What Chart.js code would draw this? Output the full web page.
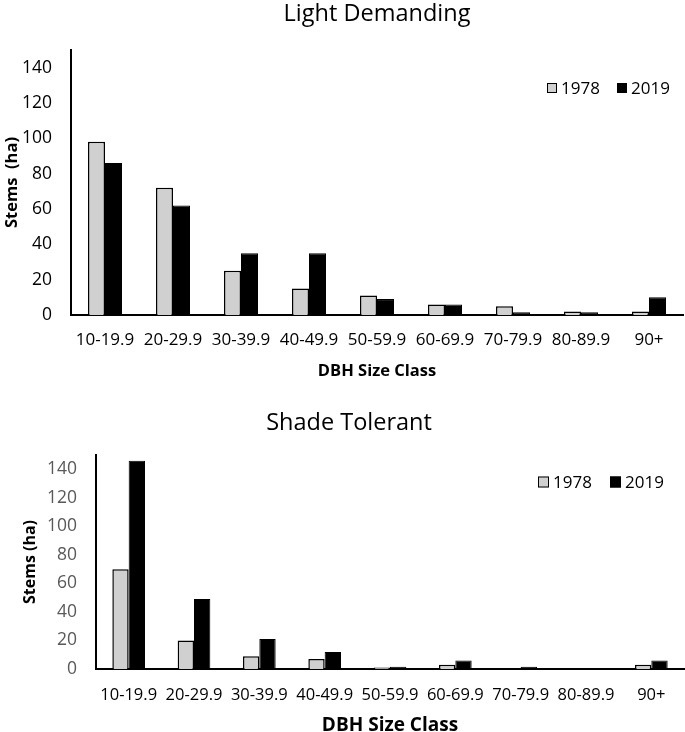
<!DOCTYPE html>
<html>
<head>
<meta charset="utf-8">
<script src="https://cdn.jsdelivr.net/npm/chart.js@4/dist/chart.umd.min.js"></script>
<style>
  html, body { margin: 0; padding: 0; background: #fff; overflow: hidden; }
  #wrap { position: relative; width: 685px; height: 732px; overflow: hidden; }
  canvas { position: absolute; left: 0; }
  #c1 { top: 0; }
  #c2 { top: 395px; }
</style>
</head>
<body>
<div id="wrap">
  <canvas id="c1" width="685" height="395"></canvas>
  <canvas id="c2" width="685" height="345"></canvas>
</div>
<script>
// ---- data ----
const categories = ['10-19.9', '20-29.9', '30-39.9', '40-49.9', '50-59.9', '60-69.9', '70-79.9', '80-89.9', '90+'];
const seriesNames = ['1978', '2019'];
const light1978 = [98, 72, 25, 15, 11, 6, 5, 2, 2];
const light2019 = [86, 62, 35, 35, 9, 6, 1.5, 1.5, 10];
const shade1978 = [70, 20, 9, 7, 1, 3, 0, 0, 3];
const shade2019 = [146, 49, 21, 12, 1.5, 6, 1.5, 0, 6];
const yTickValues = [0, 20, 40, 60, 80, 100, 120, 140];
const yMax = 150;

const FONT = '"Open Sans", "DejaVu Sans", sans-serif';

const cornerLegend = {
  id: 'cornerLegend',
  afterDraw(chart, args, opts) {
    const ctx = chart.ctx;
    ctx.save();
    ctx.font = opts.font;
    ctx.textBaseline = 'middle';
    ctx.textAlign = 'left';
    chart.data.datasets.forEach((ds, i) => {
      const x = opts.x[i];
      const b = opts.box;
      ctx.fillStyle = ds.backgroundColor;
      ctx.fillRect(x, opts.y - b / 2, b, b);
      ctx.strokeStyle = '#000';
      ctx.lineWidth = 1;
      ctx.strokeRect(x + 0.5, opts.y - b / 2 + 0.5, b - 1, b - 1);
      ctx.fillStyle = opts.color;
      ctx.fillText(ds.label, x + b + 4, opts.y + 1);
    });
    ctx.restore();
  }
};

function makeDatasets(a, b) {
  return [
    { label: seriesNames[0], data: a, backgroundColor: '#d0d0d0', borderColor: '#000', borderWidth: 1.5, borderSkipped: 'bottom' },
    { label: seriesNames[1], data: b, backgroundColor: '#000', borderColor: '#000', borderWidth: 1, borderSkipped: 'bottom' }
  ];
}

function makeChart(el, cfg) {
  return new Chart(el, {
    type: 'bar',
    data: { labels: categories, datasets: makeDatasets(cfg.a, cfg.b) },
    options: {
      responsive: false,
      animation: false,
      devicePixelRatio: 1,
      categoryPercentage: 0.5,
      barPercentage: 1.0,
      layout: { padding: cfg.layoutPadding },
      plugins: {
        legend: { display: false },
        tooltip: { enabled: false },
        title: {
          display: true,
          text: cfg.title,
          color: '#000',
          fullSize: cfg.titleFull,
          font: { family: FONT, size: 23.5, weight: 'normal', lineHeight: 1.2 },
          padding: cfg.titlePadding
        },
        cornerLegend: cfg.legend
      },
      scales: {
        x: {
          grid: { display: false, drawTicks: false },
          border: { display: true, color: '#000', width: 2 },
          ticks: { color: '#000', padding: cfg.xTickPad, maxRotation: 0, autoSkip: false,
                   font: { family: FONT, size: cfg.xTickSize } },
          title: { display: true, text: 'DBH Size Class', color: '#000',
                   font: { family: FONT, size: cfg.xTitleSize, weight: 'bold', lineHeight: 1.2 },
                   padding: { top: 0, bottom: cfg.xTitlePad } },
          afterFit(scale) { scale.height = cfg.xHeight; }
        },
        y: {
          min: 0, max: yMax,
          grid: { display: false, drawTicks: false },
          border: { display: true, color: '#000', width: 2 },
          ticks: { color: cfg.yTickColor, padding: 19, font: { family: FONT, size: 17.5 } },
          afterBuildTicks(scale) { scale.ticks = yTickValues.map(v => ({ value: v })); },
          title: { display: true, text: cfg.yTitle, color: '#000',
                   font: { family: FONT, size: cfg.yTitleSize, weight: 'bold', lineHeight: 1.2 },
                   padding: { top: cfg.yTitlePad, bottom: 0 } },
          afterFit(scale) { scale.width = cfg.yWidth; }
        }
      }
    },
    plugins: [cornerLegend]
  });
}

makeChart(document.getElementById('c1'), {
  a: light1978, b: light2019,
  title: 'Light Demanding', titleFull: false,
  titlePadding: { top: 0, bottom: 21.8 },
  layoutPadding: { left: 0, right: 2, top: 0, bottom: 0 },
  xHeight: 80, xTickPad: 15, xTickSize: 17, xTitleSize: 16.5, xTitlePad: 14,
  yWidth: 71, yTickColor: '#000', yTitle: 'Stems  (ha)', yTitleSize: 16.5, yTitlePad: 2,
  legend: { x: [547, 617], y: 88, box: 10, font: '17px ' + FONT, color: '#000' }
});

makeChart(document.getElementById('c2'), {
  a: shade1978, b: shade2019,
  title: 'Shade Tolerant', titleFull: true,
  titlePadding: { top: 13.9, bottom: 17.9 },
  layoutPadding: { left: 14, right: 1, top: 0, bottom: 0 },
  xHeight: 71, xTickPad: 16, xTickSize: 16.5, xTitleSize: 19, xTitlePad: 2.6,
  yWidth: 82, yTickColor: '#595959', yTitle: 'Stems (ha)', yTitleSize: 16, yTitlePad: 6.4,
  legend: { x: [538, 610], y: 87, box: 11, font: '17px ' + FONT, color: '#000' }
});
</script>
</body>
</html>
